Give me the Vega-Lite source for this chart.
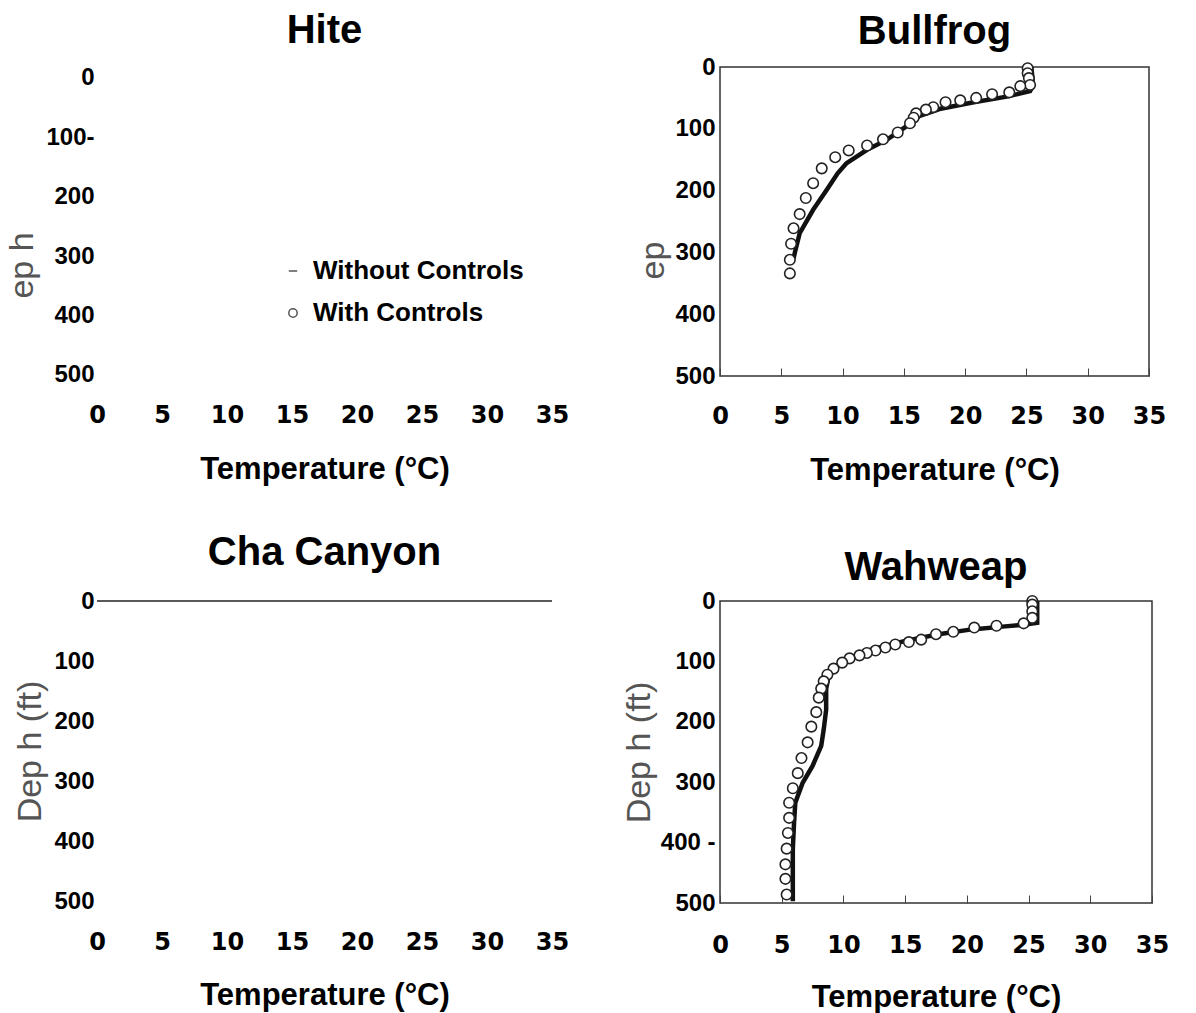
{
  "$schema": "https://vega.github.io/schema/vega-lite/v6.json",
  "background": "white",
  "padding": {"left": 5, "top": 10, "right": 5, "bottom": 0},
  "config": {
    "font": "Liberation Sans",
    "view": {"stroke": null},
    "axis": {"grid": false, "labelColor": "black", "titleColor": "black"},
    "title": {"font": "Liberation Sans", "fontSize": 40, "fontWeight": "bold", "color": "black", "anchor": "middle", "offset": 3},
    "legend": {
      "orient": "none", "legendX": 183, "legendY": 191, "title": null,
      "labelFont": "Liberation Sans", "labelFontSize": 26, "labelFontWeight": "bold", "labelColor": "black", "labelLimit": 0,
      "symbolSize": 70, "rowPadding": 16, "labelOffset": 7
    }
  },
  "data": {"values": [
    {"site": "Bullfrog", "series": "With Controls", "temp": 25.1, "depth": 2},
    {"site": "Bullfrog", "series": "With Controls", "temp": 25.1, "depth": 10},
    {"site": "Bullfrog", "series": "With Controls", "temp": 25.2, "depth": 18},
    {"site": "Bullfrog", "series": "With Controls", "temp": 25.3, "depth": 29},
    {"site": "Bullfrog", "series": "With Controls", "temp": 24.5, "depth": 31},
    {"site": "Bullfrog", "series": "With Controls", "temp": 23.6, "depth": 41},
    {"site": "Bullfrog", "series": "With Controls", "temp": 22.2, "depth": 44},
    {"site": "Bullfrog", "series": "With Controls", "temp": 20.9, "depth": 50},
    {"site": "Bullfrog", "series": "With Controls", "temp": 19.6, "depth": 54},
    {"site": "Bullfrog", "series": "With Controls", "temp": 18.4, "depth": 57},
    {"site": "Bullfrog", "series": "With Controls", "temp": 17.4, "depth": 65},
    {"site": "Bullfrog", "series": "With Controls", "temp": 16.8, "depth": 69},
    {"site": "Bullfrog", "series": "With Controls", "temp": 16.0, "depth": 75},
    {"site": "Bullfrog", "series": "With Controls", "temp": 15.8, "depth": 82},
    {"site": "Bullfrog", "series": "With Controls", "temp": 15.5, "depth": 91},
    {"site": "Bullfrog", "series": "With Controls", "temp": 14.5, "depth": 106},
    {"site": "Bullfrog", "series": "With Controls", "temp": 13.3, "depth": 117},
    {"site": "Bullfrog", "series": "With Controls", "temp": 12.0, "depth": 127},
    {"site": "Bullfrog", "series": "With Controls", "temp": 10.5, "depth": 135},
    {"site": "Bullfrog", "series": "With Controls", "temp": 9.4, "depth": 146},
    {"site": "Bullfrog", "series": "With Controls", "temp": 8.3, "depth": 164},
    {"site": "Bullfrog", "series": "With Controls", "temp": 7.6, "depth": 188},
    {"site": "Bullfrog", "series": "With Controls", "temp": 7.0, "depth": 212},
    {"site": "Bullfrog", "series": "With Controls", "temp": 6.5, "depth": 238},
    {"site": "Bullfrog", "series": "With Controls", "temp": 6.0, "depth": 261},
    {"site": "Bullfrog", "series": "With Controls", "temp": 5.8, "depth": 286},
    {"site": "Bullfrog", "series": "With Controls", "temp": 5.7, "depth": 312},
    {"site": "Bullfrog", "series": "With Controls", "temp": 5.7, "depth": 334},
    {"site": "Bullfrog", "series": "Without Controls", "temp": 25.4, "depth": 0},
    {"site": "Bullfrog", "series": "Without Controls", "temp": 25.5, "depth": 20},
    {"site": "Bullfrog", "series": "Without Controls", "temp": 25.5, "depth": 31},
    {"site": "Bullfrog", "series": "Without Controls", "temp": 25.3, "depth": 39},
    {"site": "Bullfrog", "series": "Without Controls", "temp": 23.4, "depth": 48},
    {"site": "Bullfrog", "series": "Without Controls", "temp": 20.7, "depth": 57},
    {"site": "Bullfrog", "series": "Without Controls", "temp": 17.9, "depth": 68},
    {"site": "Bullfrog", "series": "Without Controls", "temp": 16.3, "depth": 79},
    {"site": "Bullfrog", "series": "Without Controls", "temp": 15.2, "depth": 96},
    {"site": "Bullfrog", "series": "Without Controls", "temp": 13.6, "depth": 118},
    {"site": "Bullfrog", "series": "Without Controls", "temp": 12.0, "depth": 134},
    {"site": "Bullfrog", "series": "Without Controls", "temp": 10.3, "depth": 156},
    {"site": "Bullfrog", "series": "Without Controls", "temp": 9.6, "depth": 172},
    {"site": "Bullfrog", "series": "Without Controls", "temp": 8.7, "depth": 199},
    {"site": "Bullfrog", "series": "Without Controls", "temp": 7.6, "depth": 231},
    {"site": "Bullfrog", "series": "Without Controls", "temp": 6.5, "depth": 269},
    {"site": "Bullfrog", "series": "Without Controls", "temp": 6.1, "depth": 301},
    {"site": "Bullfrog", "series": "Without Controls", "temp": 6.0, "depth": 310},
    {"site": "Wahweap", "series": "With Controls", "temp": 25.3, "depth": 0},
    {"site": "Wahweap", "series": "With Controls", "temp": 25.3, "depth": 6},
    {"site": "Wahweap", "series": "With Controls", "temp": 25.3, "depth": 17},
    {"site": "Wahweap", "series": "With Controls", "temp": 25.3, "depth": 28},
    {"site": "Wahweap", "series": "With Controls", "temp": 24.6, "depth": 37},
    {"site": "Wahweap", "series": "With Controls", "temp": 22.4, "depth": 41},
    {"site": "Wahweap", "series": "With Controls", "temp": 20.6, "depth": 44},
    {"site": "Wahweap", "series": "With Controls", "temp": 18.9, "depth": 51},
    {"site": "Wahweap", "series": "With Controls", "temp": 17.5, "depth": 55},
    {"site": "Wahweap", "series": "With Controls", "temp": 16.3, "depth": 64},
    {"site": "Wahweap", "series": "With Controls", "temp": 15.3, "depth": 68},
    {"site": "Wahweap", "series": "With Controls", "temp": 14.2, "depth": 72},
    {"site": "Wahweap", "series": "With Controls", "temp": 13.4, "depth": 77},
    {"site": "Wahweap", "series": "With Controls", "temp": 12.6, "depth": 82},
    {"site": "Wahweap", "series": "With Controls", "temp": 11.9, "depth": 86},
    {"site": "Wahweap", "series": "With Controls", "temp": 11.3, "depth": 90},
    {"site": "Wahweap", "series": "With Controls", "temp": 10.5, "depth": 95},
    {"site": "Wahweap", "series": "With Controls", "temp": 9.9, "depth": 102},
    {"site": "Wahweap", "series": "With Controls", "temp": 9.2, "depth": 112},
    {"site": "Wahweap", "series": "With Controls", "temp": 8.7, "depth": 122},
    {"site": "Wahweap", "series": "With Controls", "temp": 8.4, "depth": 133},
    {"site": "Wahweap", "series": "With Controls", "temp": 8.2, "depth": 145},
    {"site": "Wahweap", "series": "With Controls", "temp": 8.0, "depth": 160},
    {"site": "Wahweap", "series": "With Controls", "temp": 7.8, "depth": 184},
    {"site": "Wahweap", "series": "With Controls", "temp": 7.4, "depth": 208},
    {"site": "Wahweap", "series": "With Controls", "temp": 7.1, "depth": 234},
    {"site": "Wahweap", "series": "With Controls", "temp": 6.6, "depth": 260},
    {"site": "Wahweap", "series": "With Controls", "temp": 6.3, "depth": 285},
    {"site": "Wahweap", "series": "With Controls", "temp": 5.9, "depth": 310},
    {"site": "Wahweap", "series": "With Controls", "temp": 5.6, "depth": 334},
    {"site": "Wahweap", "series": "With Controls", "temp": 5.6, "depth": 359},
    {"site": "Wahweap", "series": "With Controls", "temp": 5.5, "depth": 384},
    {"site": "Wahweap", "series": "With Controls", "temp": 5.4, "depth": 410},
    {"site": "Wahweap", "series": "With Controls", "temp": 5.3, "depth": 436},
    {"site": "Wahweap", "series": "With Controls", "temp": 5.3, "depth": 460},
    {"site": "Wahweap", "series": "With Controls", "temp": 5.4, "depth": 486},
    {"site": "Wahweap", "series": "Without Controls", "temp": 25.7, "depth": 0},
    {"site": "Wahweap", "series": "Without Controls", "temp": 25.7, "depth": 36},
    {"site": "Wahweap", "series": "Without Controls", "temp": 24.7, "depth": 39},
    {"site": "Wahweap", "series": "Without Controls", "temp": 23.1, "depth": 42},
    {"site": "Wahweap", "series": "Without Controls", "temp": 20.4, "depth": 47},
    {"site": "Wahweap", "series": "Without Controls", "temp": 17.7, "depth": 55},
    {"site": "Wahweap", "series": "Without Controls", "temp": 15.0, "depth": 66},
    {"site": "Wahweap", "series": "Without Controls", "temp": 12.3, "depth": 80},
    {"site": "Wahweap", "series": "Without Controls", "temp": 10.5, "depth": 94},
    {"site": "Wahweap", "series": "Without Controls", "temp": 9.4, "depth": 108},
    {"site": "Wahweap", "series": "Without Controls", "temp": 8.8, "depth": 124},
    {"site": "Wahweap", "series": "Without Controls", "temp": 8.6, "depth": 146},
    {"site": "Wahweap", "series": "Without Controls", "temp": 8.6, "depth": 180},
    {"site": "Wahweap", "series": "Without Controls", "temp": 8.4, "depth": 213},
    {"site": "Wahweap", "series": "Without Controls", "temp": 8.2, "depth": 240},
    {"site": "Wahweap", "series": "Without Controls", "temp": 7.5, "depth": 273},
    {"site": "Wahweap", "series": "Without Controls", "temp": 6.7, "depth": 301},
    {"site": "Wahweap", "series": "Without Controls", "temp": 6.1, "depth": 334},
    {"site": "Wahweap", "series": "Without Controls", "temp": 6.0, "depth": 367},
    {"site": "Wahweap", "series": "Without Controls", "temp": 5.9, "depth": 411},
    {"site": "Wahweap", "series": "Without Controls", "temp": 5.9, "depth": 455},
    {"site": "Wahweap", "series": "Without Controls", "temp": 5.9, "depth": 497}
  ]},
  "columns": 2,
  "spacing": {"row": 47, "column": 52},
  "concat": [
    {
      "title": {"text": "Hite", "offset": 15},
      "width": 455, "height": 309,
      "transform": [{"filter": "datum.site === 'Hite'"}],
      "encoding": {
        "x": {"field": "temp", "type": "quantitative", "scale": {"domain": [0, 35]},
          "axis": {"title": "Temperature (°C)", "values": [0, 5, 10, 15, 20, 25, 30, 35], "domain": false, "ticks": false, "labelFlush": false, "labelPadding": 27, "labelFont": "DejaVu Sans", "labelFontSize": 24, "labelFontWeight": "bold", "titleFontSize": 31, "titleFontWeight": "bold", "titlePadding": 27}},
        "y": {"field": "depth", "type": "quantitative", "scale": {"domain": [-18.5, 501.7], "reverse": true, "nice": false, "zero": false},
          "axis": {"title": "ep h", "titleY": 198, "values": [0, 100, 200, 300, 400, 500], "labelExpr": "datum.value == 100 ? '100-' : datum.label", "domain": false, "ticks": false, "labelPadding": 3, "labelFontSize": 24, "labelFontWeight": "bold", "titleColor": "#555", "titleFontWeight": "normal", "titleFontSize": 34, "titlePadding": 6}}
      },
      "layer": [
        {"transform": [{"filter": "datum.series === 'Without Controls'"}], "mark": {"type": "line", "color": "black", "strokeWidth": 4}, "encoding": {"order": {"field": "depth", "type": "quantitative"}}},
        {"transform": [{"filter": "datum.series === 'With Controls'"}], "mark": {"type": "point", "filled": false, "color": "#555", "strokeWidth": 1.5, "size": 110, "opacity": 1},
          "encoding": {"shape": {"field": "series", "type": "nominal", "scale": {"domain": ["Without Controls", "With Controls"], "range": ["stroke", "circle"]}}}}
      ]
    },
    {
      "title": {"text": "Bullfrog", "offset": 3},
      "width": 429, "height": 309,
      "view": {"stroke": "#333", "strokeWidth": 1.5},
      "transform": [{"filter": "datum.site === 'Bullfrog'"}],
      "encoding": {
        "x": {"field": "temp", "type": "quantitative", "scale": {"domain": [0, 35]},
          "axis": {"title": "Temperature (°C)", "values": [0, 5, 10, 15, 20, 25, 30, 35], "domain": false, "ticks": true, "tickSize": -8, "tickColor": "#444", "labelFlush": false, "labelPadding": 36, "labelFont": "DejaVu Sans", "labelFontSize": 24, "labelFontWeight": "bold", "titleFontSize": 31, "titleFontWeight": "bold", "titlePadding": 27}},
        "y": {"field": "depth", "type": "quantitative", "scale": {"domain": [0, 500], "reverse": true},
          "axis": {"title": "ep", "titleY": 193, "values": [0, 100, 200, 300, 400, 500], "domain": false, "ticks": false, "labelPadding": 5, "labelFontSize": 24, "labelFontWeight": "bold", "titleColor": "#555", "titleFontWeight": "normal", "titleFontSize": 34, "titlePadding": 4}}
      },
      "layer": [
        {"transform": [{"filter": "datum.series === 'Without Controls'"}], "mark": {"type": "line", "color": "#111", "strokeWidth": 4.5}, "encoding": {"order": {"field": "depth", "type": "quantitative"}}},
        {"transform": [{"filter": "datum.series === 'With Controls'"}], "mark": {"type": "point", "shape": "circle", "filled": true, "fill": "white", "stroke": "#222", "strokeWidth": 1.6, "size": 110, "opacity": 1}}
      ]
    },
    {
      "title": {"text": "Cha Canyon", "offset": 16},
      "width": 455, "height": 300,
      "encoding": {
        "x": {"field": "temp", "type": "quantitative", "scale": {"domain": [0, 35]},
          "axis": {"title": "Temperature (°C)", "values": [0, 5, 10, 15, 20, 25, 30, 35], "domain": false, "ticks": false, "labelFlush": false, "labelPadding": 29, "labelFont": "DejaVu Sans", "labelFontSize": 24, "labelFontWeight": "bold", "titleFontSize": 31, "titleFontWeight": "bold", "titlePadding": 26}},
        "y": {"field": "depth", "type": "quantitative", "scale": {"domain": [0, 500], "reverse": true},
          "axis": {"title": "Dep h (ft)", "values": [0, 100, 200, 300, 400, 500], "domain": false, "ticks": false, "labelPadding": 3, "labelFontSize": 24, "labelFontWeight": "bold", "titleColor": "#555", "titleFontWeight": "normal", "titleFontSize": 34, "titlePadding": 6}}
      },
      "layer": [
        {"data": {"values": [{"temp": 0, "depth": 0}]}, "mark": {"type": "rule", "color": "#222", "strokeWidth": 1.3}, "encoding": {"x2": {"datum": 35}}},
        {"transform": [{"filter": "datum.site === 'Cha Canyon' && datum.series === 'Without Controls'"}], "mark": {"type": "line", "color": "black", "strokeWidth": 4}, "encoding": {"order": {"field": "depth", "type": "quantitative"}}},
        {"transform": [{"filter": "datum.site === 'Cha Canyon' && datum.series === 'With Controls'"}], "mark": {"type": "point", "shape": "circle", "filled": true, "fill": "white", "stroke": "black", "strokeWidth": 1.5, "size": 110, "opacity": 1}}
      ]
    },
    {
      "title": {"text": "Wahweap", "offset": 1},
      "width": 432, "height": 302,
      "view": {"stroke": "#333", "strokeWidth": 1.5},
      "transform": [{"filter": "datum.site === 'Wahweap'"}],
      "encoding": {
        "x": {"field": "temp", "type": "quantitative", "scale": {"domain": [0, 35]},
          "axis": {"title": "Temperature (°C)", "values": [0, 5, 10, 15, 20, 25, 30, 35], "domain": false, "ticks": true, "tickSize": -8, "tickColor": "#444", "labelFlush": false, "labelPadding": 38, "labelFont": "DejaVu Sans", "labelFontSize": 24, "labelFontWeight": "bold", "titleFontSize": 31, "titleFontWeight": "bold", "titlePadding": 25}},
        "y": {"field": "depth", "type": "quantitative", "scale": {"domain": [0, 500], "reverse": true},
          "axis": {"title": "Dep h (ft)", "values": [0, 100, 200, 300, 400, 500], "labelExpr": "datum.value == 400 ? '400 -' : datum.label", "domain": false, "ticks": false, "labelPadding": 5, "labelFontSize": 24, "labelFontWeight": "bold", "titleColor": "#555", "titleFontWeight": "normal", "titleFontSize": 34, "titlePadding": 4}}
      },
      "layer": [
        {"transform": [{"filter": "datum.series === 'Without Controls'"}], "mark": {"type": "line", "color": "#111", "strokeWidth": 4.5}, "encoding": {"order": {"field": "depth", "type": "quantitative"}}},
        {"transform": [{"filter": "datum.series === 'With Controls'"}], "mark": {"type": "point", "shape": "circle", "filled": true, "fill": "white", "stroke": "#222", "strokeWidth": 1.6, "size": 110, "opacity": 1}}
      ]
    }
  ]
}
